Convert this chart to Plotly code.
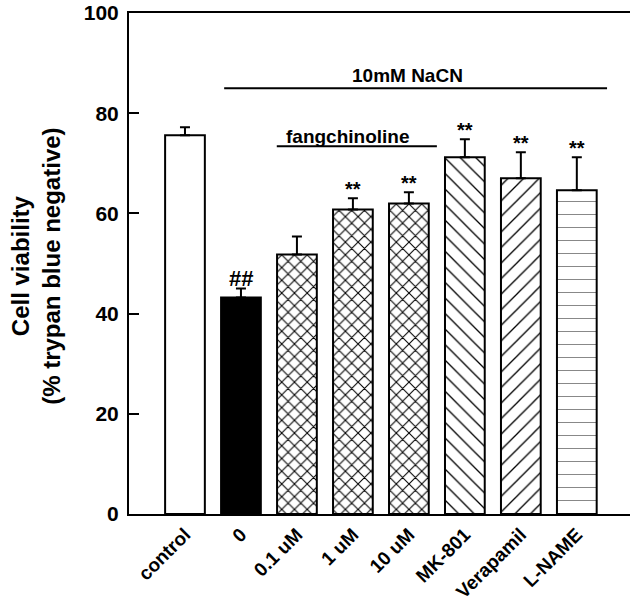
import plotly.graph_objects as go

categories = ["control", "0", "0.1 uM", "1 uM", "10 uM", "MK-801", "Verapamil", "L-NAME"]
viability = [75.6, 43.2, 51.8, 60.8, 62.0, 71.2, 67.0, 64.6]
sem = [1.6, 1.8, 3.6, 2.2, 2.2, 3.6, 5.2, 6.6]
marks = ["", "##", "", "**", "**", "**", "**", "**"]
patterns = ["", "", "x", "x", "x", "\\", "/", "-"]
fills = ["white", "black", "white", "white", "white", "white", "white", "white"]
y_ticks = [0, 20, 40, 60, 80, 100]

FONT = "Liberation Sans, Arial, Helvetica, sans-serif"
xs = list(range(len(categories)))
pat_size = {"x": 9, "\\": 11, "/": 11, "-": 13, "": 8}
pat_sol = {"x": 0.22, "\\": 0.12, "/": 0.12, "-": 0.08, "": 0.1}

fig = go.Figure()
for i in xs:
    shp = patterns[i]
    marker = dict(color=fills[i], line=dict(color="black", width=2))
    if shp:
        marker["pattern"] = dict(shape=shp, fgcolor="black" if shp != "-" else "#888888",
                                 bgcolor="white", size=pat_size[shp], solidity=pat_sol[shp],
                                 fillmode="replace")
    fig.add_trace(go.Bar(
        x=[xs[i]], y=[viability[i]], width=0.71, marker=marker,
        error_y=dict(type="data", symmetric=False, array=[sem[i]], arrayminus=[0],
                     color="black", thickness=2, width=5),
        showlegend=False, hoverinfo="skip",
    ))

for i, (v, e, m) in enumerate(zip(viability, sem, marks)):
    if m:
        fig.add_annotation(x=i, y=v + e, text=m, showarrow=False, yanchor="bottom",
                           yshift=-4,
                           font=dict(family=FONT, size=20 if m == "**" else 22, color="black", weight="bold"))

# group lines
fig.add_shape(type="line", x0=0.70, x1=7.54, y0=85, y1=85, line=dict(color="black", width=2))
fig.add_annotation(x=3.98, y=85, text="10mM NaCN", showarrow=False, yanchor="bottom", yshift=0,
                   font=dict(family=FONT, size=19, color="black", weight="bold"))
fig.add_shape(type="line", x0=1.64, x1=4.5, y0=73.4, y1=73.4, line=dict(color="black", width=2))
fig.add_annotation(x=2.91, y=73.4, text="fangchinoline", showarrow=False, yanchor="bottom", yshift=-3,
                   font=dict(family=FONT, size=19, color="black", weight="bold"))

fig.add_annotation(xref="paper", yref="paper", x=-0.186, y=0.495,
                   text="Cell viability<br>(% trypan blue negative)", textangle=-90,
                   showarrow=False, xanchor="center", yanchor="middle",
                   font=dict(family=FONT, size=24, color="black", weight="bold"))

fig.update_layout(
    width=630, height=601,
    margin=dict(l=129, r=0, t=13, b=87, autoexpand=False),
    plot_bgcolor="white", paper_bgcolor="white",
    font=dict(family=FONT, color="black"),
    barmode="overlay",
)
fig.update_xaxes(
    range=[-1.0, 7.95], tickvals=xs, ticktext=categories, tickangle=-45,
    showline=True, linecolor="black", linewidth=2, mirror=True, ticks="",
    showgrid=False, zeroline=False, automargin=False,
    tickfont=dict(family=FONT, size=19, color="black", weight="bold"),
)
fig.update_yaxes(
    range=[0, 100], tickvals=y_ticks, showline=True, linecolor="black", linewidth=2,
    ticks="inside", ticklen=10, tickwidth=2, tickcolor="black",
    showgrid=False, zeroline=False, ticklabelstandoff=4, automargin=False,
    tickfont=dict(family=FONT, size=21, color="black", weight="bold"),
)

fig.write_html("out.html", config={"displayModeBar": False},
               post_script="document.body.style.margin='0';document.body.style.overflow='hidden';")
